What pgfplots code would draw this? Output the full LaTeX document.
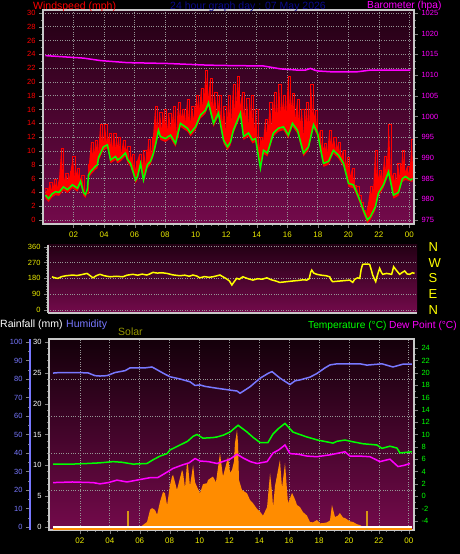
\documentclass[border=0pt]{standalone}
\usepackage{pgfplots}
\pgfplotsset{compat=1.18}
\usepackage{fontspec}
\setmainfont{Liberation Sans}
\definecolor{windred}{RGB}{255,0,0}
\definecolor{avggreen}{RGB}{0,255,0}
\definecolor{baro}{RGB}{255,0,255}
\definecolor{dirye}{RGB}{255,255,0}
\definecolor{ticky}{RGB}{235,235,0}
\definecolor{humblue}{RGB}{120,120,255}
\definecolor{solarorange}{RGB}{255,140,0}
\definecolor{solartxt}{RGB}{150,150,0}
\definecolor{titleblue}{RGB}{10,10,140}
\definecolor{gridgray}{RGB}{150,150,150}
\definecolor{framegray}{RGB}{200,200,200}
\definecolor{bgtop}{RGB}{35,0,20}
\definecolor{bgtopb}{RGB}{20,0,10}
\definecolor{bgbot}{RGB}{115,10,75}
\definecolor{markcol}{RGB}{215,150,20}
\pgfplotsset{
  panel/.style={scale only axis, anchor=south west,
    /pgf/number format/assume math mode=true,
    /pgf/number format/1000 sep={},
    scaled y ticks=false,
    tick label style={font=\fontsize{7.5}{8}\selectfont},
    tick align=outside, major tick length=4pt, minor tick length=2pt,
    tick style={gray},
    grid style={dotted, gridgray, line width=0.7pt},
    axis line style={framegray, line width=1.2pt}},
}
\begin{document}
\begin{tikzpicture}
\fill[black] (0pt,0pt) rectangle (460pt,554pt);

% ---------------- top panel ----------------
\shade[top color=bgtop, bottom color=bgbot] (43pt,330pt) rectangle (414pt,544pt);
\begin{axis}[panel, at={(43pt,330pt)}, width=371pt, height=214pt,
  xmin=0, xmax=24.3, ymin=-0.58, ymax=30.43,
  xtick={2,4,...,24}, xticklabels={02,04,06,08,10,12,14,16,18,20,22,00},
  minor x tick num=3, ytick={0,2,...,30}, minor y tick num=1,
  xtick pos=bottom, ytick pos=left, xmajorgrids, ymajorgrids,
  xticklabel style={ticky, font=\fontsize{8}{9}\selectfont}, yticklabel style={windred}]
% gust band: upper jagged edge, then lower edge back
\addplot[fill=windred, draw=none] coordinates {
(0.15,4.5)(0.30,4.0)(0.45,5.5)(0.60,4.2)(0.75,5.8)(0.90,4.5)(1.05,6.0)(1.20,10.4)(1.35,5.5)(1.50,6.8)
(1.65,5.5)(1.80,7.0)(1.95,9.2)(2.10,6.0)(2.25,7.5)(2.40,5.8)(2.55,6.5)(2.70,4.0)(2.85,3.8)(3.00,8.0)
(3.15,11.3)(3.30,9.0)(3.45,11.5)(3.60,9.5)(3.75,13.8)(3.90,10.5)(4.05,13.8)(4.20,11.0)(4.35,12.5)(4.50,10.0)
(4.65,12.6)(4.80,10.0)(4.95,12.0)(5.10,9.5)(5.25,11.5)(5.40,10.0)(5.55,10.6)(5.70,8.5)(5.85,9.5)(6.00,7.0)
(6.15,8.5)(6.30,9.5)(6.45,7.0)(6.60,10.1)(6.75,8.0)(6.90,11.6)(7.05,9.0)(7.20,12.0)(7.35,16.4)(7.50,12.5)
(7.65,15.6)(7.80,13.0)(7.95,16.0)(8.10,12.5)(8.25,15.5)(8.40,13.0)(8.55,16.5)(8.70,12.0)(8.85,17.0)(9.00,14.5)
(9.15,16.0)(9.30,14.0)(9.45,17.5)(9.60,13.5)(9.75,16.5)(9.90,14.5)(10.05,18.0)(10.20,15.5)(10.35,19.0)(10.50,16.0)
(10.65,21.7)(10.80,17.5)(10.95,20.5)(11.10,15.5)(11.25,18.5)(11.40,15.0)(11.55,18.0)(11.70,13.5)(11.85,16.5)(12.00,12.5)
(12.15,18.0)(12.30,13.5)(12.45,19.6)(12.60,15.0)(12.75,20.8)(12.90,16.5)(13.05,18.5)(13.20,14.0)(13.35,17.6)(13.50,13.5)
(13.65,18.0)(13.80,12.5)(13.95,16.0)(14.10,9.5)(14.25,12.0)(14.40,11.0)(14.55,14.5)(14.70,12.0)(14.85,17.0)(15.00,13.5)
(15.15,18.5)(15.30,14.0)(15.45,19.6)(15.60,15.0)(15.75,18.0)(15.90,14.5)(16.05,20.8)(16.20,15.5)(16.35,18.4)(16.50,14.5)
(16.65,17.5)(16.80,13.5)(16.95,16.0)(17.10,12.0)(17.25,17.0)(17.40,12.5)(17.55,19.6)(17.70,14.5)(17.85,15.9)(18.00,12.0)
(18.15,13.0)(18.30,10.0)(18.45,11.1)(18.60,9.5)(18.75,13.0)(18.90,10.5)(19.05,12.0)(19.20,10.0)(19.35,11.3)(19.50,9.0)
(19.65,10.1)(19.80,7.5)(19.95,9.0)(20.10,6.3)(20.25,7.5)(20.40,5.0)(20.55,4.8)(20.70,3.5)(20.85,2.5)(21.00,1.4)
(21.15,0.8)(21.30,2.5)(21.45,4.8)(21.60,3.0)(21.75,10.1)(21.90,5.5)(22.05,7.2)(22.20,5.5)(22.35,9.2)(22.50,6.5)
(22.65,13.8)(22.80,6.0)(22.95,6.8)(23.10,5.0)(23.25,8.2)(23.40,6.0)(23.55,10.1)(23.70,7.0)(23.85,7.7)(24.00,6.5)
(24.15,11.6)(24.25,7.0)
(24.2,5.5)(23.74,5.8)(23.54,5.5)(23.28,3.5)(22.95,3.1)(22.63,6.5)(22.30,4.6)(21.97,3.4)(21.77,1.4)(21.45,0.0)
(21.25,-0.5)(20.99,0.9)(20.66,2.9)(20.33,4.6)(20.01,4.8)(19.68,7.7)(19.35,8.9)(19.02,9.6)(18.70,8.0)(18.37,7.7)
(18.17,9.9)(17.98,12.1)(17.72,13.3)(17.39,10.1)(17.06,9.2)(16.67,12.5)(16.34,13.5)(16.07,11.8)(15.75,13.0)(15.42,12.8)
(15.09,12.1)(14.70,9.2)(14.44,9.6)(14.24,7.0)(13.92,11.3)(13.72,11.1)(13.46,12.1)(13.13,11.6)(12.93,15.0)(12.47,12.5)
(12.28,10.8)(12.08,10.1)(11.82,11.1)(11.49,15.0)(11.17,13.5)(10.84,16.5)(10.64,15.4)(10.31,14.7)(9.99,13.0)(9.66,12.1)
(9.46,12.8)(9.0,13.5)(8.68,10.6)(8.35,11.8)(8.02,11.3)(7.69,11.6)(7.56,12.5)(7.43,11.0)(7.24,9.2)(7.04,8.0)
(6.84,7.5)(6.58,5.3)(6.39,7.7)(6.19,5.8)(6.06,5.3)(5.93,6.3)(5.73,7.7)(5.53,8.3)(5.40,9.2)(5.08,8.5)
(4.88,8.2)(4.75,8.7)(4.42,8.2)(4.22,10.4)(3.96,10.1)(3.63,8.5)(3.57,7.5)(3.44,7.3)(3.11,6.5)(2.98,6.0)
(2.91,4.0)(2.78,3.2)(2.65,3.5)(2.46,5.1)(2.26,4.1)(1.93,4.6)(1.6,3.9)(1.34,4.3)(1.05,3.5)(0.82,3.6)
(0.6,3.3)(0.36,2.6)(0.16,3.1)};
\addplot[windred, line width=1pt, const plot] coordinates {
(0.15,4.5)(0.30,4.0)(0.45,5.5)(0.60,4.2)(0.75,5.8)(0.90,4.5)(1.05,6.0)(1.20,10.4)(1.35,5.5)(1.50,6.8)
(1.65,5.5)(1.80,7.0)(1.95,9.2)(2.10,6.0)(2.25,7.5)(2.40,5.8)(2.55,6.5)(2.70,4.0)(2.85,3.8)(3.00,8.0)
(3.15,11.3)(3.30,9.0)(3.45,11.5)(3.60,9.5)(3.75,13.8)(3.90,10.5)(4.05,13.8)(4.20,11.0)(4.35,12.5)(4.50,10.0)
(4.65,12.6)(4.80,10.0)(4.95,12.0)(5.10,9.5)(5.25,11.5)(5.40,10.0)(5.55,10.6)(5.70,8.5)(5.85,9.5)(6.00,7.0)
(6.15,8.5)(6.30,9.5)(6.45,7.0)(6.60,10.1)(6.75,8.0)(6.90,11.6)(7.05,9.0)(7.20,12.0)(7.35,16.4)(7.50,12.5)
(7.65,15.6)(7.80,13.0)(7.95,16.0)(8.10,12.5)(8.25,15.5)(8.40,13.0)(8.55,16.5)(8.70,12.0)(8.85,17.0)(9.00,14.5)
(9.15,16.0)(9.30,14.0)(9.45,17.5)(9.60,13.5)(9.75,16.5)(9.90,14.5)(10.05,18.0)(10.20,15.5)(10.35,19.0)(10.50,16.0)
(10.65,21.7)(10.80,17.5)(10.95,20.5)(11.10,15.5)(11.25,18.5)(11.40,15.0)(11.55,18.0)(11.70,13.5)(11.85,16.5)(12.00,12.5)
(12.15,18.0)(12.30,13.5)(12.45,19.6)(12.60,15.0)(12.75,20.8)(12.90,16.5)(13.05,18.5)(13.20,14.0)(13.35,17.6)(13.50,13.5)
(13.65,18.0)(13.80,12.5)(13.95,16.0)(14.10,9.5)(14.25,12.0)(14.40,11.0)(14.55,14.5)(14.70,12.0)(14.85,17.0)(15.00,13.5)
(15.15,18.5)(15.30,14.0)(15.45,19.6)(15.60,15.0)(15.75,18.0)(15.90,14.5)(16.05,20.8)(16.20,15.5)(16.35,18.4)(16.50,14.5)
(16.65,17.5)(16.80,13.5)(16.95,16.0)(17.10,12.0)(17.25,17.0)(17.40,12.5)(17.55,19.6)(17.70,14.5)(17.85,15.9)(18.00,12.0)
(18.15,13.0)(18.30,10.0)(18.45,11.1)(18.60,9.5)(18.75,13.0)(18.90,10.5)(19.05,12.0)(19.20,10.0)(19.35,11.3)(19.50,9.0)
(19.65,10.1)(19.80,7.5)(19.95,9.0)(20.10,6.3)(20.25,7.5)(20.40,5.0)(20.55,4.8)(20.70,3.5)(20.85,2.5)(21.00,1.4)
(21.15,0.8)(21.30,2.5)(21.45,4.8)(21.60,3.0)(21.75,10.1)(21.90,5.5)(22.05,7.2)(22.20,5.5)(22.35,9.2)(22.50,6.5)
(22.65,13.8)(22.80,6.0)(22.95,6.8)(23.10,5.0)(23.25,8.2)(23.40,6.0)(23.55,10.1)(23.70,7.0)(23.85,7.7)(24.00,6.5)
(24.15,11.6)(24.25,7.0)};
\addplot[avggreen, line width=1.5pt] coordinates {
(0.16,3.6)(0.36,3.1)(0.6,3.8)(0.82,4.1)(1.05,4.0)(1.34,4.8)(1.6,4.4)(1.93,5.1)(2.26,4.6)(2.46,5.6)
(2.65,4.0)(2.78,3.7)(2.91,4.5)(2.98,6.5)(3.11,7.0)(3.44,7.8)(3.57,8.0)(3.63,9.0)(3.96,10.6)(4.22,10.9)
(4.42,8.7)(4.75,9.2)(4.88,8.7)(5.08,9.0)(5.40,9.7)(5.53,8.8)(5.73,8.2)(5.93,6.8)(6.06,5.8)(6.19,6.3)
(6.39,8.2)(6.58,5.8)(6.84,8.0)(7.04,8.5)(7.24,9.7)(7.43,11.5)(7.56,13.0)(7.69,12.1)(8.02,11.8)(8.35,12.3)
(8.68,11.1)(9.0,14.0)(9.46,13.3)(9.66,12.6)(9.99,13.5)(10.31,15.2)(10.64,15.9)(10.84,17.0)(11.17,14.0)(11.49,15.5)
(11.82,11.6)(12.08,10.6)(12.28,11.3)(12.47,13.0)(12.93,15.5)(13.13,12.1)(13.46,12.6)(13.72,11.6)(13.92,11.8)(14.24,7.5)
(14.44,10.1)(14.70,9.7)(15.09,12.6)(15.42,13.3)(15.75,13.5)(16.07,12.3)(16.34,14.0)(16.67,13.0)(17.06,9.7)(17.39,10.6)
(17.72,13.8)(17.98,12.6)(18.17,10.4)(18.37,8.2)(18.70,8.5)(19.02,10.1)(19.35,9.4)(19.68,8.2)(20.01,5.3)(20.33,5.1)
(20.66,3.4)(20.99,1.4)(21.25,0.0)(21.45,0.5)(21.77,1.9)(21.97,3.9)(22.30,5.1)(22.63,7.0)(22.95,3.6)(23.28,4.0)
(23.54,6.0)(23.74,6.3)(24.07,5.8)(24.20,6.0)};
\end{axis}
\begin{axis}[panel, at={(43pt,330pt)}, width=371pt, height=214pt,
  xmin=0, xmax=24.3, ymin=974.03, ymax=1025.72,
  axis x line=none, axis y line*=right,
  ytick={975,980,...,1025}, minor y tick num=2, yticklabel style={baro}]
\addplot[baro, line width=1.5pt] coordinates {
(0.16,1014.7)(1.4,1014.4)(2.65,1014.1)(3.77,1013.5)(5.53,1013.0)(8.15,1012.8)(10.77,1012.4)(12.28,1012.3)
(14.44,1012.2)(15.55,1011.5)(16.67,1011.2)(17.19,1011.2)(17.52,1011.6)(17.78,1011.2)(17.98,1011.0)(18.83,1010.8)
(20.6,1010.8)(21.45,1011.2)(24.07,1011.2)};
\end{axis}

% ---------------- wind direction panel ----------------
\shade[top color=bgtop, bottom color=bgbot] (48pt,241pt) rectangle (417pt,309pt);
\begin{axis}[panel, at={(48pt,241pt)}, width=369pt, height=68pt,
  xmin=0, xmax=24.3, ymin=-17, ymax=369.7,
  axis lines*=left, xtick=\empty, ytick={0,90,...,360}, minor y tick num=5,
  ymajorgrids, yticklabel style={ticky}]
\addplot[dirye, line width=1.5pt] coordinates {
(0.26,189)(0.45,183)(0.66,180)(0.9,190)(1.2,195)(1.64,199)(1.9,196)(2.2,201)(2.57,208)(2.7,200)
(2.96,183)(3.2,196)(3.42,203)(3.7,195)(4.08,189)(4.5,192)(4.93,189)(5.2,198)(5.59,203)(5.9,198)
(6.2,204)(6.51,199)(6.7,205)(6.91,214)(7.2,210)(7.5,212)(7.83,208)(8.2,200)(8.68,195)(9.0,198)
(9.3,192)(9.54,199)(9.8,193)(10.0,183)(10.3,190)(10.6,186)(10.86,189)(11.1,194)(11.32,199)(11.5,190)
(11.78,176)(11.95,165)(12.11,142)(12.25,160)(12.43,180)(12.6,175)(12.83,189)(13.1,180)(13.49,170)(13.8,178)
(14.1,175)(14.41,183)(14.7,172)(15.0,165)(15.26,157)(15.6,160)(15.9,163)(16.12,165)(16.5,168)(16.8,172)
(17.04,170)(17.2,178)(17.3,215)(17.37,227)(17.5,210)(17.7,203)(18.0,198)(18.3,195)(18.55,189)(18.65,170)
(18.75,161)(19.1,164)(19.5,167)(19.87,170)(20.07,157)(20.2,175)(20.39,183)(20.53,180)(20.62,230)(20.72,260)
(21.0,261)(21.18,260)(21.3,225)(21.38,199)(21.5,175)(21.58,161)(21.7,200)(21.84,237)(21.95,215)(22.04,203)
(22.3,208)(22.63,203)(22.7,225)(22.76,246)(22.9,230)(23.16,203)(23.3,212)(23.49,222)(23.65,205)(23.82,203)
(24.0,212)(24.14,208)};
\end{axis}
\begin{axis}[panel, at={(48pt,241pt)}, width=369pt, height=68pt,
  xmin=0, xmax=24.3, ymin=-17, ymax=369.7,
  axis x line=none, axis y line*=right, y axis line style={draw=none},
  ytick={0,90,180,270,360}, yticklabels={N,E,S,W,N}, major tick length=0pt,
  yticklabel style={font=\fontsize{13}{13}\selectfont, dirye, xshift=8pt}]
\end{axis}

% ---------------- bottom panel ----------------
\shade[top color=bgtopb, bottom color=bgbot] (49pt,24pt) rectangle (414pt,215pt);
\begin{axis}[panel, at={(49pt,24pt)}, width=365pt, height=191pt,
  xmin=-0.07, xmax=24.35, ymin=-0.486, ymax=30.486,
  xtick={2,4,...,24}, xticklabels={02,04,06,08,10,12,14,16,18,20,22,00},
  minor x tick num=3, xmajorgrids,
  ytick={0,5,...,30}, minor y tick num=4, yticklabel style={white},
  xtick pos=bottom, ytick pos=left,
  extra y ticks={6,12,18,24}, extra y tick labels={},
  extra y tick style={ymajorgrids=true, major tick length=0pt},
  xticklabel style={ticky, font=\fontsize{8}{9}\selectfont}]
\end{axis}
\begin{axis}[panel, at={(49pt,24pt)}, width=365pt, height=191pt,
  xmin=-0.07, xmax=24.35, ymin=0, ymax=1000, hide axis]
\addplot[draw=none, fill=solarorange] coordinates {
(5.35,0)(5.55,10)(6.02,15)(6.49,42)(6.69,105)(6.82,115)(7.02,105)(7.16,80)(7.36,149)(7.56,200)
(7.69,192)(7.83,130)(8.03,236)(8.16,280)(8.23,288)(8.36,250)(8.49,210)(8.83,314)(8.90,300)(9.03,220)
(9.16,349)(9.23,340)(9.36,230)(9.57,340)(9.70,250)(9.83,227)(10.03,192)(10.23,240)(10.50,245)(10.57,262)
(10.90,280)(11.10,250)(11.37,402)(11.57,280)(11.77,340)(11.91,384)(12.04,300)(12.17,314)(12.31,360)(12.37,454)
(12.51,524)(12.58,450)(12.64,262)(12.84,210)(13.18,192)(13.38,157)(13.58,140)(13.85,110)(14.05,96)(14.25,75)
(14.52,120)(14.72,298)(14.85,200)(14.92,120)(15.05,230)(15.38,367)(15.52,220)(15.72,351)(15.92,140)(16.19,194)
(16.39,160)(16.52,131)(16.72,120)(16.92,94)(17.19,75)(17.39,42)(17.59,40)(17.86,52)(18.06,35)(18.26,36)
(18.53,40)(18.73,50)(18.86,131)(18.93,110)(19.06,68)(19.26,75)(19.39,89)(19.60,65)(19.73,63)(20.07,45)
(20.27,42)(20.54,30)(20.74,26)(20.94,15)(21.14,0)} \closedcycle;
\addplot[solarorange, line width=2pt] coordinates {(0.2,6)(24.2,6)};
\addplot[markcol, line width=1.5pt, ycomb] coordinates {(5.22,100)(21.2,100)};
\end{axis}
\begin{axis}[panel, at={(49pt,24pt)}, width=365pt, height=191pt,
  xmin=-0.07, xmax=24.35, ymin=-1.62, ymax=101.62, hide axis]
\addplot[white, line width=2.5pt] coordinates {(0.2,0)(24.2,0)};
\addplot[humblue, line width=1.5pt] coordinates {
(0.2,83.2)(0.67,83.5)(1.67,83.5)(2.54,83.3)(3.01,81.8)(3.34,81.6)(3.81,81.8)(4.35,83.5)(5.02,84.5)(5.35,86)
(6.35,86)(6.82,86.5)(7.16,85)(7.6,83)(8.03,81.2)(8.70,80)(9.36,78.5)(9.70,76.5)(10.03,76.8)(10.37,76)
(11.17,75)(12.04,74)(12.51,73.5)(12.71,72.3)(13.04,74)(13.38,75.8)(14.05,80.4)(14.58,83)(14.85,84)(15.38,80.5)
(16.05,77)(16.39,79)(16.72,79.5)(17.39,81)(17.86,83)(18.39,86)(18.73,87.6)(19.20,88.2)(20.74,88.2)(21.2,87.5)
(22.21,88.2)(22.94,86.5)(23.61,88)(24.21,88)};
\end{axis}
\begin{axis}[panel, at={(49pt,24pt)}, width=365pt, height=191pt,
  xmin=-0.07, xmax=24.35, ymin=-5.486, ymax=25.486,
  axis x line=none, axis y line*=right,
  ytick={-4,-2,...,24}, minor y tick num=1, yticklabel style={avggreen}]
\addplot[avggreen, line width=1.5pt] coordinates {
(0.2,5.2)(1.5,5.2)(2.5,5.3)(3.34,5.4)(4.21,5.6)(4.8,5.5)(5.55,5.2)(6.49,5.3)(6.89,5.9)(7.36,6.5)
(7.83,6.9)(8.03,7.5)(8.70,8.3)(9.2,8.9)(9.57,9.7)(9.83,10.0)(10.23,9.4)(10.90,9.5)(11.17,9.6)(11.6,9.9)
(12.04,10.4)(12.58,11.5)(13.18,10.4)(13.6,9.5)(14.05,8.7)(14.58,8.7)(14.92,10.1)(15.3,11.0)(15.72,11.8)(16.25,10.4)
(16.7,10.0)(17.19,9.6)(17.9,9.1)(18.53,8.8)(18.93,8.6)(19.20,8.9)(19.73,9.1)(20.3,8.8)(20.94,8.5)(21.87,8.3)
(22.21,7.75)(22.74,8.1)(23.21,7.8)(23.41,7.0)(23.8,7.1)(24.21,7.2)};
\addplot[baro, line width=1.5pt] coordinates {
(0.2,2.2)(1.5,2.3)(2.88,2.2)(3.34,2.0)(3.9,2.2)(4.48,2.6)(5.15,2.3)(6.02,2.7)(6.69,3.0)(7.2,3.0)
(7.83,3.9)(8.23,4.5)(8.90,5.1)(9.3,5.4)(9.70,6.1)(10.03,5.7)(10.6,5.6)(11.17,5.3)(12.04,6.0)(12.51,6.8)
(12.91,6.2)(13.4,5.6)(13.85,5.3)(14.52,5.6)(14.92,7.0)(15.3,7.5)(15.72,8.3)(16.05,6.9)(16.6,6.8)(17.19,6.5)
(17.86,6.4)(18.73,6.7)(19.73,7.2)(20.07,6.5)(20.7,6.5)(21.40,6.4)(22.07,5.6)(22.74,6.0)(23.28,4.8)(23.7,5.0)
(24.08,5.3)};
\end{axis}
\begin{axis}[panel, at={(30pt,24pt)}, width=1pt, height=191pt,
  xmin=0, xmax=1, ymin=-1.62, ymax=101.62,
  axis x line=none, axis y line*=left, y axis line style={humblue, line width=2pt},
  ytick={0,10,...,100}, minor y tick num=1, yticklabel style={humblue}]
\end{axis}

% ---------------- titles (drawn last) ----------------
\tikzset{ttl/.style={anchor=west, inner sep=0pt, font=\fontsize{10.5}{12}\selectfont}}
\node[ttl, windred] at (33pt,547.5pt) {Windspeed (mph)};
\node[ttl, titleblue] at (170pt,547.5pt) {24 hour graph day : 07 May 2026};
\node[ttl, baro, font=\fontsize{10.2}{12}\selectfont] at (367pt,548pt) {Barometer (hpa)};
\node[ttl, white] at (0pt,229pt) {Rainfall (mm)};
\node[ttl, humblue] at (66pt,229pt) {Humidity};
\node[ttl, solartxt] at (118pt,222pt) {Solar};
\node[ttl, avggreen, font=\fontsize{10.2}{12}\selectfont] at (308pt,228pt) {Temperature (°C)};
\node[ttl, baro, font=\fontsize{10.2}{12}\selectfont] at (389pt,228pt) {Dew Point (°C)};
\pgfresetboundingbox
\path[use as bounding box] (0pt,0pt) rectangle (460pt,554pt);
\end{tikzpicture}
\end{document}
